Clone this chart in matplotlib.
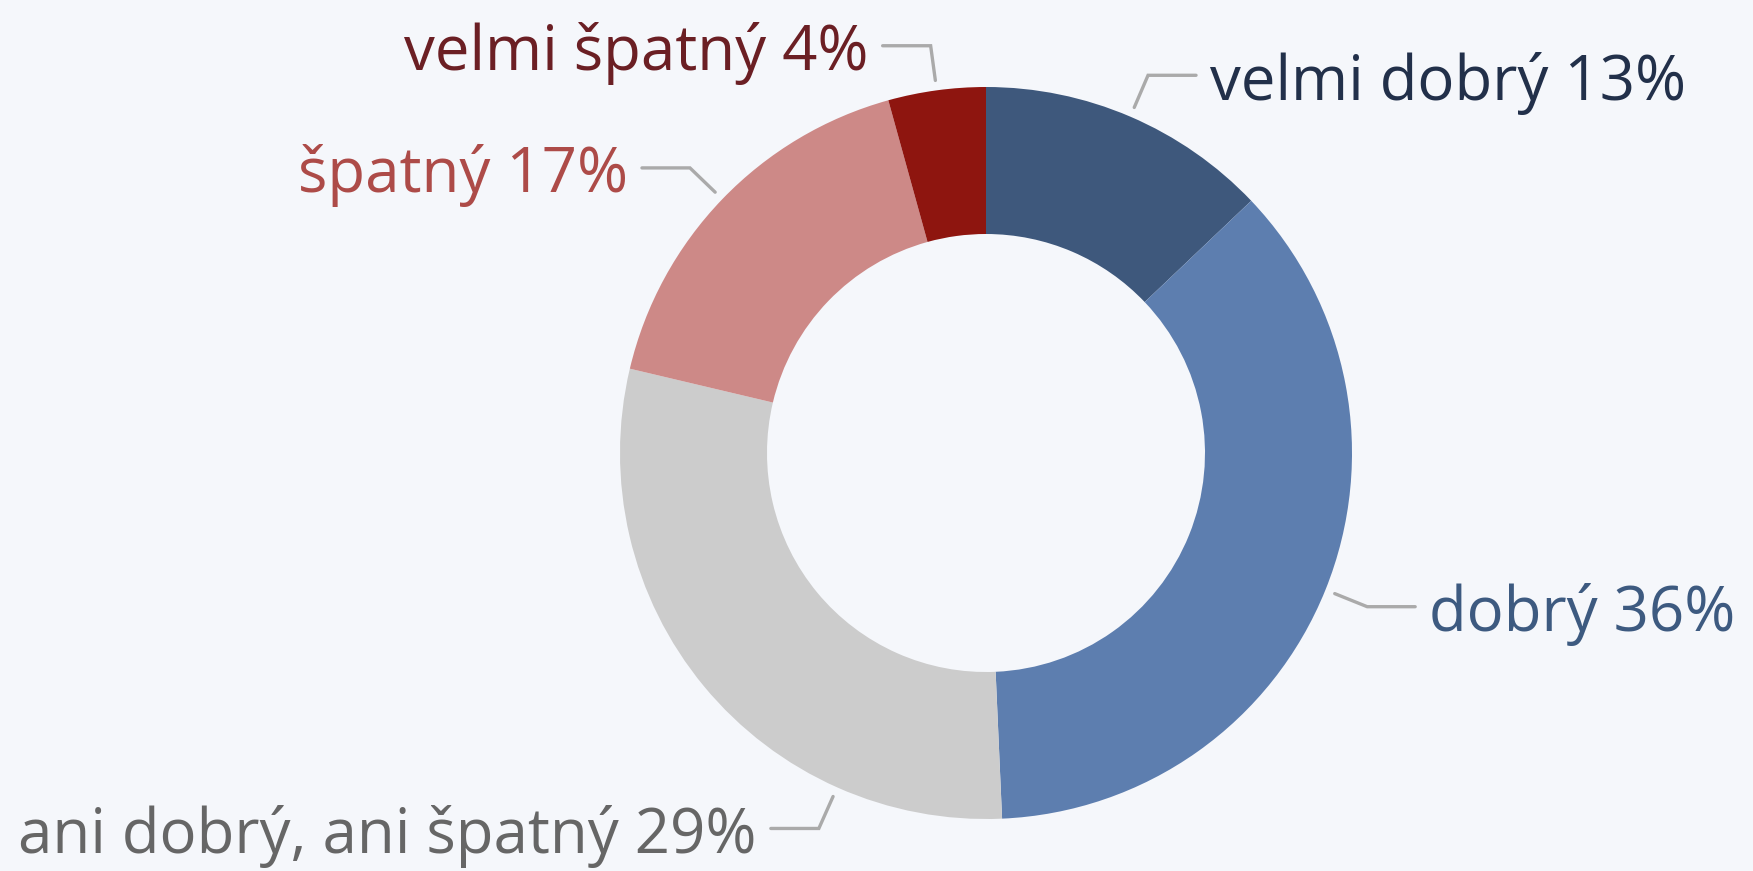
import numpy as np
import matplotlib
matplotlib.use("Agg")
import matplotlib.pyplot as plt

# slice data (clockwise from 12 o'clock)
labels = ["velmi dobrý", "dobrý", "ani dobrý, ani špatný", "špatný", "velmi špatný"]
values = [12.9, 36.4, 29.4, 17.0, 4.3]
colors = ["#3e587c", "#5d7eaf", "#cccccc", "#cd8987", "#8e150f"]
text_colors = ["#22304a", "#3d5a80", "#666666", "#ad4b48", "#6b1f24"]

BG = "#f5f7fb"
W, H = 1753, 871
CX, CY = 986, 871 - 453
R_OUT, R_IN = 366, 219

plt.rcParams["font.family"] = ["Open Sans", "DejaVu Sans"]

fig = plt.figure(figsize=(W / 100, H / 100), dpi=100, facecolor=BG)
ax = fig.add_axes([0, 0, 1, 1])
ax.set_facecolor(BG)

ax.pie(values, colors=colors, startangle=90, counterclock=False, radius=R_OUT,
       center=(CX, CY), wedgeprops=dict(width=R_OUT - R_IN, linewidth=0, antialiased=True),
       frame=False)
ax.set_xlim(0, W); ax.set_ylim(0, H); ax.set_aspect("equal"); ax.axis("off")

# label layout: angle nudge (deg, clockwise) for labels pushed by the renderer
nudge = [0, 0, -26.4, 0, 0]
total = sum(values)
cum = 0.0
for i, (lab, v) in enumerate(zip(labels, values)):
    mid = (cum + v / 2) / total * 360 + nudge[i]
    cum += v
    th = np.deg2rad(90 - mid)
    c, s = np.cos(th), np.sin(th)
    p0 = (CX + (R_OUT + 10) * c, CY + (R_OUT + 10) * s)
    p1 = (CX + 411 * c, CY + 411 * s)
    side = 1 if c >= 0 else -1
    p2 = (p1[0] + side * 48, p1[1])
    ax.plot([p0[0], p1[0], p2[0]], [p0[1], p1[1], p2[1]], color="#aaaaaa", lw=2.4,
            solid_joinstyle="miter", solid_capstyle="round")
    ax.text(p2[0] + side * 14, p2[1] - 8, f"{lab} {round(v)}%", color=text_colors[i],
            fontsize=44.5, ha="left" if side > 0 else "right", va="center")

fig.savefig("out.png", dpi=100, facecolor=BG)
